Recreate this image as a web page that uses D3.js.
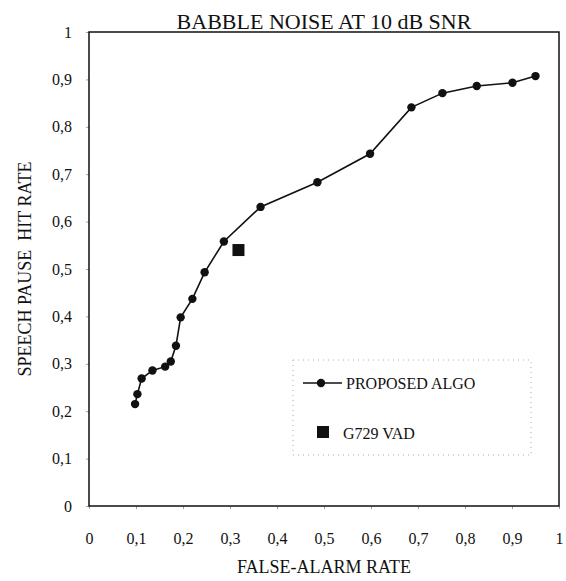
<!DOCTYPE html>
<html><head><meta charset="utf-8">
<script src="https://cdn.jsdelivr.net/npm/d3@7"></script>
<style>body{margin:0;background:#fff}svg{display:block}</style>
</head><body>
<script>
const falseAlarm = [0.098,0.103,0.112,0.135,0.162,0.174,0.185,0.195,0.220,0.246,0.287,0.365,0.486,0.598,0.686,0.752,0.825,0.901,0.950];
const hitRate    = [0.215,0.236,0.269,0.286,0.294,0.305,0.338,0.398,0.437,0.493,0.558,0.631,0.683,0.743,0.841,0.871,0.886,0.893,0.907];
const g729 = [{x:0.318, y:0.540}];
const tickValues = [0,0.1,0.2,0.3,0.4,0.5,0.6,0.7,0.8,0.9,1];
const tickLabels = ["0","0,1","0,2","0,3","0,4","0,5","0,6","0,7","0,8","0,9","1"];
const seriesNames = ["PROPOSED ALGO","G729 VAD"];
const titleText = "BABBLE NOISE AT 10 dB SNR";
const xTitle = "FALSE-ALARM RATE";
const yTitle = "SPEECH PAUSE\u00a0\u00a0HIT RATE";

const W=566,H=581;
const m={l:89,r:7,t:32,b:75};
const svg=d3.select("body").append("svg").attr("width",W).attr("height",H);
const x=d3.scaleLinear().domain([0,1]).range([m.l,W-m.r]);
const y=d3.scaleLinear().domain([0,1]).range([H-m.b,m.t]);
const font="'Liberation Serif','Times New Roman',serif";

// axes
const xa=svg.append("g").attr("transform",`translate(0,${y(0)})`)
  .call(d3.axisBottom(x).tickValues(tickValues).tickFormat((d,i)=>tickLabels[i]).tickSize(3).tickPadding(24));
const ya=svg.append("g").attr("transform",`translate(${x(0)},0)`)
  .call(d3.axisLeft(y).tickValues(tickValues).tickFormat((d,i)=>tickLabels[i]).tickSize(3).tickPadding(14));
[xa,ya].forEach(a=>{
  a.select(".domain").remove();
  a.selectAll("line").attr("stroke","#888").attr("stroke-width",0.8);
  a.selectAll("text").attr("font-family",font).attr("font-size",16).attr("fill","#111");
});

// frame
svg.append("rect").attr("x",x(0)).attr("y",y(1)).attr("width",x(1)-x(0)).attr("height",y(0)-y(1))
  .attr("fill","none").attr("stroke","#111").attr("stroke-width",1.5);

// title & labels
svg.append("text").attr("x",(x(0)+x(1))/2).attr("y",29).attr("text-anchor","middle")
  .attr("font-family",font).attr("font-size",22).attr("fill","#111").text(titleText);
svg.append("text").attr("x",(x(0)+x(1))/2).attr("y",573).attr("text-anchor","middle")
  .attr("font-family",font).attr("font-size",18).attr("fill","#111").text(xTitle);
svg.append("text").attr("transform",`translate(31,${(y(0)+y(1))/2}) rotate(-90)`).attr("text-anchor","middle")
  .attr("font-family",font).attr("font-size",18).attr("fill","#111").text(yTitle);

// series
const pts=falseAlarm.map((v,i)=>({x:v,y:hitRate[i]}));
svg.append("path").datum(pts).attr("fill","none").attr("stroke","#111").attr("stroke-width",1.6)
  .attr("d",d3.line().x(d=>x(d.x)).y(d=>y(d.y)));
svg.selectAll("circle.p").data(pts).join("circle").attr("class","p")
  .attr("cx",d=>x(d.x)).attr("cy",d=>y(d.y)).attr("r",4.2).attr("fill","#111");
const sq=12;
svg.selectAll("rect.g").data(g729).join("rect").attr("class","g")
  .attr("x",d=>x(d.x)-sq/2).attr("y",d=>y(d.y)-sq/2).attr("width",sq).attr("height",sq).attr("fill","#111");

// legend
const lg=svg.append("g");
lg.append("rect").attr("x",293).attr("y",360).attr("width",238).attr("height",95)
  .attr("fill","none").attr("stroke","#aaa").attr("stroke-width",1).attr("stroke-dasharray","1,4");
lg.append("line").attr("x1",303).attr("x2",342).attr("y1",383).attr("y2",383).attr("stroke","#111").attr("stroke-width",1.6);
lg.append("circle").attr("cx",321).attr("cy",383).attr("r",4.2).attr("fill","#111");
lg.append("text").attr("x",346).attr("y",389).attr("font-family",font).attr("font-size",16).attr("fill","#111").text(seriesNames[0]);
lg.append("rect").attr("x",317).attr("y",426).attr("width",sq).attr("height",sq).attr("fill","#111");
lg.append("text").attr("x",343).attr("y",439).attr("font-family",font).attr("font-size",16).attr("fill","#111").text(seriesNames[1]);
</script>
</body></html>
